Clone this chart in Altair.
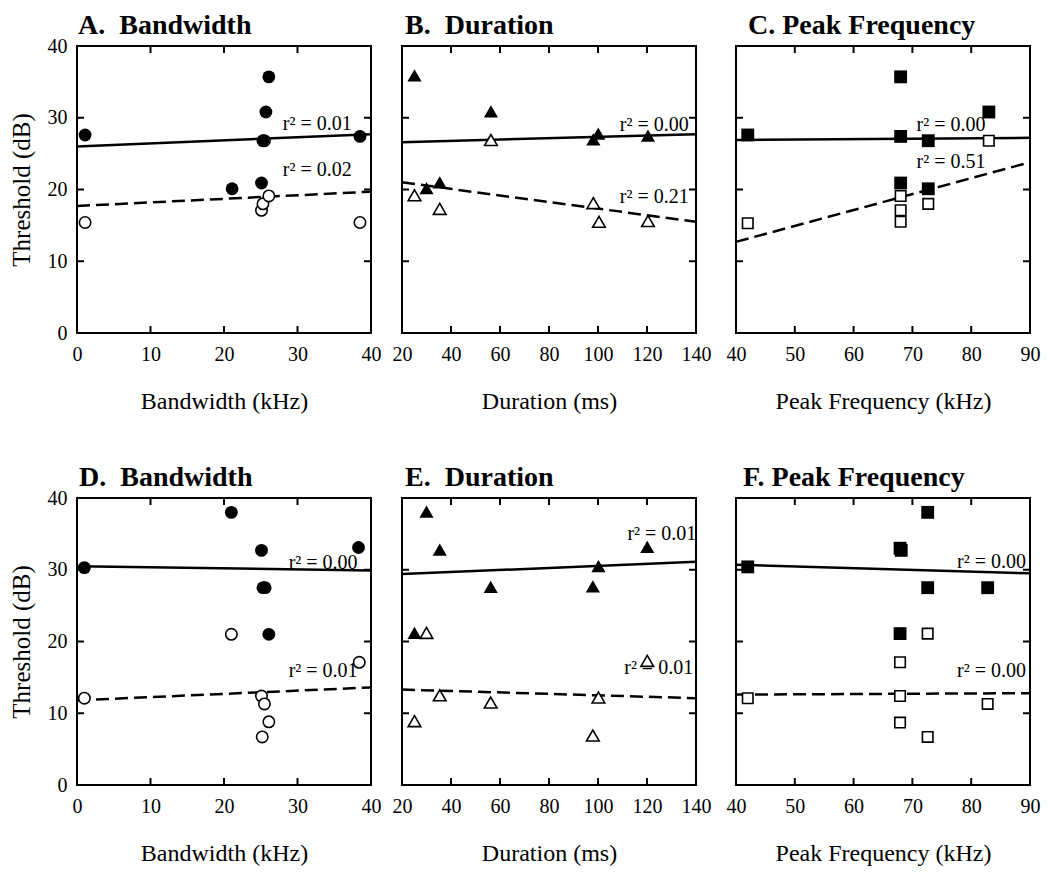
import altair as alt
import pandas as pd

FONT = "Liberation Serif"
W, H = 294, 287
TICK = 7

# ---------------- data ----------------
# Panel A: Bandwidth (top)
A_filled_x = [1.1, 21.1, 25.1, 25.3, 25.7, 26.1, 38.5]
A_filled_y = [27.6, 20.1, 20.9, 26.8, 30.8, 35.7, 27.4]
A_open_x = [1.1, 25.1, 25.3, 26.1, 25.5, 38.5]
A_open_y = [15.4, 17.1, 18.0, 19.1, 26.8, 15.4]
A_solid = ([0, 40], [26.0, 27.7])
A_dashed = ([0, 40], [17.7, 19.7])
A_r2 = (["r² = 0.01", "r² = 0.02"], [28.0, 28.0], [29.1, 22.7])

# Panel B: Duration (top)
B_filled_x = [25.1, 30.0, 35.4, 56.3, 98.1, 100.1, 120.4]
B_filled_y = [35.9, 20.2, 21.0, 30.9, 27.0, 27.8, 27.5]
B_open_x = [25.1, 35.4, 56.3, 98.1, 100.4, 120.4]
B_open_y = [19.2, 17.3, 26.9, 18.1, 15.5, 15.6]
B_solid = ([20, 140], [26.6, 27.7])
B_dashed = ([20, 140], [21.0, 15.5])
B_r2 = (["r² = 0.00", "r² = 0.21"], [108.9, 108.9], [29.0, 18.9])

# Panel C: Peak Frequency (top)
C_filled_x = [42.0, 68.0, 68.0, 68.0, 72.7, 72.7, 83.0]
C_filled_y = [27.6, 35.7, 27.4, 20.9, 26.8, 20.1, 30.8]
C_open_x = [42.0, 68.0, 68.0, 68.0, 72.7, 83.0]
C_open_y = [15.3, 19.1, 17.1, 15.5, 18.0, 26.8]
C_solid = ([40, 90], [26.9, 27.2])
C_dashed = ([40, 90], [12.7, 23.8])
C_r2 = (["r² = 0.00", "r² = 0.51"], [70.7, 70.7], [29.0, 23.9])

# Panel D: Bandwidth (bottom)
D_filled_x = [1.0, 21.0, 25.1, 25.3, 25.6, 26.1, 38.3]
D_filled_y = [30.3, 38.0, 32.7, 27.5, 27.5, 21.0, 33.1]
D_open_x = [1.0, 21.0, 25.1, 25.5, 26.1, 25.2, 38.4]
D_open_y = [12.1, 21.0, 12.4, 11.3, 8.8, 6.7, 17.1]
D_solid = ([0, 40], [30.5, 29.9])
D_dashed = ([0, 40], [11.8, 13.6])
D_r2 = (["r² = 0.00", "r² = 0.01"], [28.8, 28.8], [31.0, 15.9])

# Panel E: Duration (bottom)
E_filled_x = [25.1, 30.0, 35.4, 56.2, 97.9, 100.2, 120.1]
E_filled_y = [21.2, 38.1, 32.8, 27.6, 27.7, 30.5, 33.2]
E_open_x = [25.1, 30.0, 35.4, 56.2, 97.9, 100.2, 120.1]
E_open_y = [8.9, 21.2, 12.5, 11.5, 6.9, 12.2, 17.3]
E_solid = ([20, 140], [29.4, 31.1])
E_dashed = ([20, 140], [13.3, 12.1])
E_r2 = (["r² = 0.01", "r² = 0.01"], [112.0, 110.7], [35.0, 16.3])

# Panel F: Peak Frequency (bottom)
F_filled_x = [42.0, 67.9, 68.1, 67.9, 72.6, 72.6, 82.8]
F_filled_y = [30.4, 33.0, 32.7, 21.1, 38.0, 27.5, 27.5]
F_open_x = [42.0, 67.9, 67.9, 67.9, 72.6, 72.6, 82.8]
F_open_y = [12.1, 17.1, 12.4, 8.7, 21.1, 6.7, 11.3]
F_solid = ([40, 90], [30.7, 29.5])
F_dashed = ([40, 90], [12.6, 12.8])
F_r2 = (["r² = 0.00", "r² = 0.00"], [77.6, 77.6], [31.1, 15.9])

# axis tick values
bw_ticks = [0, 10, 20, 30, 40]
dur_ticks = [20, 40, 60, 80, 100, 120, 140]
pf_ticks = [40, 50, 60, 70, 80, 90]
thr_ticks = [0, 10, 20, 30, 40]

NB = "\u00a0"


def panel(title, title_dx, xtitle, xticks, fx, fy, ox, oy, solid, dashed, r2,
          shape, show_y, fsize, osize):
    xdom = [xticks[0], xticks[-1]]
    xs = alt.Scale(domain=xdom, nice=False, zero=False)
    ys = alt.Scale(domain=[0, 40], nice=False, zero=False)
    xaxis = alt.Axis(values=xticks, title=xtitle, ticks=False, tickSize=0,
                     domain=False, grid=False, labelFlush=False,
                     labelPadding=11, titlePadding=25, format="d",
                     labelFont=FONT, labelFontSize=20, labelColor="black",
                     titleFont=FONT, titleFontSize=24, titleFontWeight="normal",
                     titleColor="black")
    if show_y:
        yaxis = alt.Axis(values=thr_ticks, title="Threshold (dB)", ticks=False,
                         tickSize=0, domain=False, grid=False, labelFlush=False,
                         labelPadding=10, titlePadding=13, format="d",
                         labelFont=FONT, labelFontSize=20, labelColor="black",
                         titleFont=FONT, titleFontSize=25,
                         titleFontWeight="normal", titleColor="black")
    else:
        yaxis = None

    X = lambda f: alt.X(f, type="quantitative", scale=xs, axis=xaxis)
    Y = lambda f: alt.Y(f, type="quantitative", scale=ys, axis=yaxis)

    inner_x = pd.DataFrame({"x": xticks[1:-1]})
    inner_y = pd.DataFrame({"y": thr_ticks[1:-1]})

    t_top = alt.Chart(inner_x).mark_rule(color="black", strokeWidth=2).encode(
        x=X("x"), y=alt.value(0), y2=alt.value(TICK))
    t_bot = alt.Chart(inner_x).mark_rule(color="black", strokeWidth=2).encode(
        x=X("x"), y=alt.value(H), y2=alt.value(H - TICK))
    t_left = alt.Chart(inner_y).mark_rule(color="black", strokeWidth=2).encode(
        y=Y("y"), x=alt.value(0), x2=alt.value(TICK))
    t_right = alt.Chart(inner_y).mark_rule(color="black", strokeWidth=2).encode(
        y=Y("y"), x=alt.value(W), x2=alt.value(W - TICK))

    head = alt.Chart(pd.DataFrame({"t": [title]})).mark_text(
        align="left", baseline="alphabetic", font=FONT, fontSize=28,
        fontWeight="bold", color="black").encode(
        x=alt.value(title_dx), y=alt.value(-12), text="t:N")

    tdf = pd.DataFrame({"label": r2[0], "x": r2[1], "y": r2[2]})
    texts = alt.Chart(tdf).mark_text(align="left", baseline="middle", font=FONT,
                                     fontSize=20, color="black").encode(
        x=X("x"), y=Y("y"), text="label:N")

    sdf = pd.DataFrame({"x": solid[0], "y": solid[1]})
    ddf = pd.DataFrame({"x": dashed[0], "y": dashed[1]})
    l_solid = alt.Chart(sdf).mark_line(color="black", strokeWidth=2.5).encode(
        x=X("x"), y=Y("y"))
    l_dash = alt.Chart(ddf).mark_line(color="black", strokeWidth=2.5,
                                      strokeDash=[13, 6]).encode(
        x=X("x"), y=Y("y"))

    odf = pd.DataFrame({"x": ox, "y": oy})
    fdf = pd.DataFrame({"x": fx, "y": fy})
    p_open = alt.Chart(odf).mark_point(shape=shape, filled=True, fill="white",
                                       stroke="black", strokeWidth=1.6,
                                       size=osize, opacity=1).encode(
        x=X("x"), y=Y("y"))
    p_fill = alt.Chart(fdf).mark_point(shape=shape, filled=True, fill="black",
                                       strokeWidth=0, size=fsize,
                                       opacity=1).encode(
        x=X("x"), y=Y("y"))

    return alt.layer(t_top, t_bot, t_left, t_right, head, texts, l_solid,
                     l_dash, p_open, p_fill).properties(width=W, height=H)


A = panel("A." + NB + " Bandwidth", 1, "Bandwidth (kHz)", bw_ticks, A_filled_x,
          A_filled_y, A_open_x, A_open_y, A_solid, A_dashed, A_r2, "circle",
          True, 165, 130)
B = panel("B." + NB + " Duration", 3, "Duration (ms)", dur_ticks, B_filled_x,
          B_filled_y, B_open_x, B_open_y, B_solid, B_dashed, B_r2,
          "triangle-up", False, 200, 160)
C = panel("C. Peak Frequency", 12, "Peak Frequency (kHz)", pf_ticks, C_filled_x,
          C_filled_y, C_open_x, C_open_y, C_solid, C_dashed, C_r2, "square",
          False, 165, 110)
D = panel("D." + NB + " Bandwidth", 2, "Bandwidth (kHz)", bw_ticks, D_filled_x,
          D_filled_y, D_open_x, D_open_y, D_solid, D_dashed, D_r2, "circle",
          True, 165, 130)
E = panel("E." + NB + " Duration", 3, "Duration (ms)", dur_ticks, E_filled_x,
          E_filled_y, E_open_x, E_open_y, E_solid, E_dashed, E_r2,
          "triangle-up", False, 200, 160)
F = panel("F. Peak Frequency", 7, "Peak Frequency (kHz)", pf_ticks, F_filled_x,
          F_filled_y, F_open_x, F_open_y, F_solid, F_dashed, F_r2, "square",
          False, 165, 110)

row1 = alt.hconcat(A, alt.hconcat(B, C, spacing=40, bounds="flush"),
                   spacing=31, bounds="flush")
row2 = alt.hconcat(D, alt.hconcat(E, F, spacing=40, bounds="flush"),
                   spacing=31, bounds="flush")

chart = alt.vconcat(row1, row2, spacing=49).properties(
    padding={"left": 0, "top": 3, "right": 0, "bottom": 0},
    background="white",
).configure_view(stroke="black", strokeWidth=2)

chart.save("out.html", embed_options={"renderer": "svg", "actions": False})
